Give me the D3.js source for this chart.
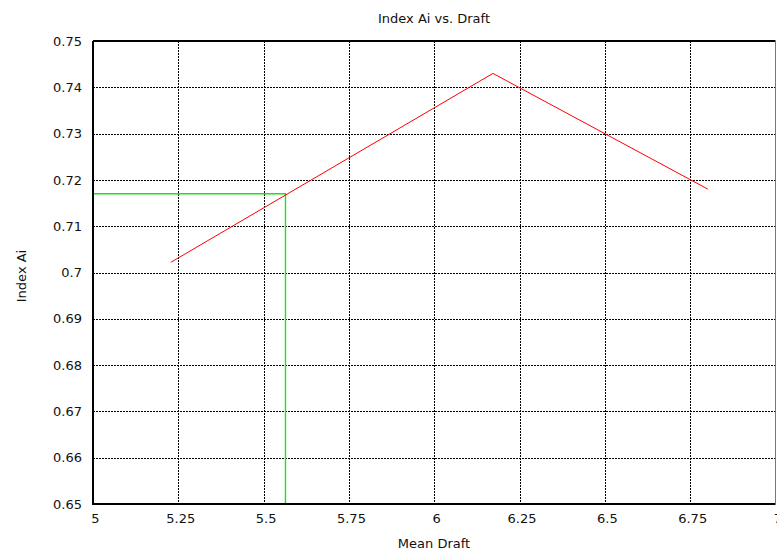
<!DOCTYPE html>
<html>
<head>
<meta charset="utf-8">
<script src="https://cdn.jsdelivr.net/npm/d3@7"></script>
<style>
  body { margin: 0; background: #fff; }
  text { font-family: "DejaVu Sans", sans-serif; font-size: 13px; fill: #111; }
</style>
</head>
<body>
<svg id="chart" width="777" height="552"></svg>
<script>
// data
const draft = [5.228, 6.172, 6.802];
const indexAi = [0.7022, 0.7430, 0.7180];
const markerDraft = [5.0, 5.564, 5.564];
const markerIndex = [0.717, 0.717, 0.65];
const xTicks = [5, 5.25, 5.5, 5.75, 6, 6.25, 6.5, 6.75, 7];
const yTicks = [0.65, 0.66, 0.67, 0.68, 0.69, 0.7, 0.71, 0.72, 0.73, 0.74, 0.75];

const margin = { top: 41, right: 1.5, bottom: 48, left: 93 };
const width = 777 - margin.left - margin.right;
const height = 552 - margin.top - margin.bottom;

const svg = d3.select("#chart");
const g = svg.append("g").attr("transform", `translate(${margin.left},${margin.top})`);

const x = d3.scaleLinear().domain([5, 7]).range([0, width]);
const y = d3.scaleLinear().domain([0.65, 0.75]).range([height, 0]);

// grid
g.append("g").selectAll("line")
    .data(xTicks.slice(1, -1))
    .join("line")
    .attr("x1", d => Math.round(x(d)) + 0.5).attr("x2", d => Math.round(x(d)) + 0.5)
    .attr("y1", 0).attr("y2", height)
    .attr("stroke", "#000").attr("stroke-dasharray", "2,1").attr("stroke-width", 1);

g.append("g").selectAll("line")
    .data(yTicks.slice(1, -1))
    .join("line")
    .attr("y1", d => Math.round(y(d)) + 0.5).attr("y2", d => Math.round(y(d)) + 0.5)
    .attr("x1", 0).attr("x2", width)
    .attr("stroke", "#000").attr("stroke-dasharray", "2,1").attr("stroke-width", 1);

// axes (labels only, ticks handled by grid)
const xAxis = d3.axisBottom(x).tickValues(xTicks).tickSize(0).tickPadding(10).tickFormat(d3.format(""));
const yAxis = d3.axisLeft(y).tickValues(yTicks).tickSize(0).tickPadding(11).tickFormat(d3.format(""));

const gx = g.append("g").attr("transform", `translate(0,${height})`).call(xAxis);
const gy = g.append("g").call(yAxis);
[gx, gy].forEach(a => {
    a.select(".domain").remove();
    a.selectAll("text").attr("font-size", null).attr("font-family", null).attr("fill", null);
});
gx.selectAll("text").attr("dx", 2);

// data lines
const line = d3.line().x(d => x(d[0])).y(d => y(d[1]));

g.append("path")
    .datum(markerDraft.map((d, i) => [d, markerIndex[i]]))
    .attr("fill", "none").attr("stroke", "#1ee01e").attr("stroke-width", 1.4)
    .attr("d", line);

g.append("path")
    .datum(draft.map((d, i) => [d, indexAi[i]]))
    .attr("fill", "none").attr("stroke", "#ff0000").attr("stroke-width", 1)
    .attr("d", line);

// frame
g.append("path")
    .attr("d", `M0,0H${width}`)
    .attr("stroke", "#000").attr("stroke-width", 2).attr("fill", "none");
g.append("path")
    .attr("d", `M0,0V${height}H${width}`)
    .attr("stroke", "#000").attr("stroke-width", 2).attr("fill", "none");
g.append("path")
    .attr("d", `M${width},0V${height}`)
    .attr("stroke", "#777").attr("stroke-width", 1).attr("fill", "none");

// titles
svg.append("text")
    .attr("x", 434).attr("y", 23)
    .attr("text-anchor", "middle")
    .text("Index Ai vs. Draft");

svg.append("text")
    .attr("x", 434).attr("y", 548)
    .attr("text-anchor", "middle")
    .text("Mean Draft");

svg.append("text")
    .attr("transform", "rotate(-90)")
    .attr("x", -276).attr("y", 26)
    .attr("text-anchor", "middle")
    .text("Index Ai");
</script>
</body>
</html>
